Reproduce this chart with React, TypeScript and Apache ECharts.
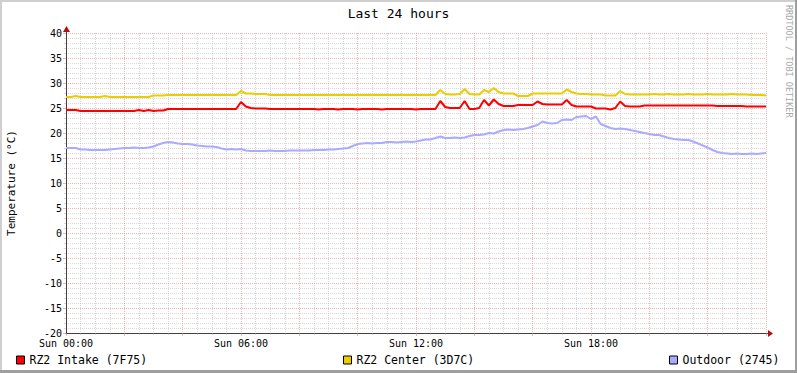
import React, { useEffect, useRef } from "react";
import * as echarts from "echarts";

// sample spacing of the series, minutes
const SAMPLE_MINUTES = 10;
const xTickLabels = ["Sun 00:00", "Sun 06:00", "Sun 12:00", "Sun 18:00"];
const seriesNames = ["RZ2 Intake (7F75)", "RZ2 Center (3D7C)", "Outdoor (2745)"];
const seriesColors = ["#FF0000", "#EACC00", "#AAAAFF"];

const intake = [
  24.6, 24.6, 24.6, 24.4, 24.4, 24.4, 24.4, 24.4, 24.4, 24.4,
  24.4, 24.4, 24.4, 24.4, 24.4, 24.6, 24.4, 24.6, 24.4, 24.5,
  24.5, 24.8, 24.8, 24.8, 24.8, 24.8, 24.8, 24.8, 24.8, 24.8,
  24.8, 24.8, 24.8, 24.8, 24.8, 24.8, 26.2, 25.3, 25.0, 24.9,
  24.9, 24.9, 24.8, 24.8, 24.8, 24.8, 24.8, 24.8, 24.8, 24.8,
  24.8, 24.8, 24.7, 24.8, 24.8, 24.8, 24.7, 24.8, 24.8, 24.8,
  24.7, 24.8, 24.8, 24.8, 24.8, 24.7, 24.8, 24.8, 24.8, 24.8,
  24.8, 24.8, 24.7, 24.8, 24.8, 24.8, 24.8, 26.4, 25.2, 25.0,
  25.0, 25.0, 26.4, 24.8, 24.8, 25.0, 26.6, 25.5, 26.7, 25.8,
  25.4, 25.4, 25.4, 25.6, 25.6, 25.6, 25.6, 26.3, 25.8, 25.7,
  25.7, 25.7, 25.7, 26.6, 25.6, 25.3, 25.3, 25.3, 25.3, 24.9,
  24.9, 24.9, 24.7, 25.0, 26.3, 25.4, 25.3, 25.3, 25.3, 25.5,
  25.5, 25.5, 25.5, 25.5, 25.5, 25.5, 25.5, 25.5, 25.5, 25.5,
  25.5, 25.5, 25.5, 25.5, 25.4, 25.4, 25.4, 25.4, 25.4, 25.4,
  25.3, 25.3, 25.3, 25.3, 25.3,
];

const center = [
  27.2, 27.2, 27.4, 27.2, 27.2, 27.2, 27.2, 27.2, 27.4, 27.2,
  27.2, 27.2, 27.2, 27.2, 27.2, 27.2, 27.2, 27.2, 27.5, 27.5,
  27.5, 27.6, 27.6, 27.6, 27.6, 27.6, 27.6, 27.6, 27.6, 27.6,
  27.6, 27.6, 27.6, 27.6, 27.6, 27.6, 28.4, 27.9, 27.9, 27.8,
  27.8, 27.8, 27.6, 27.6, 27.6, 27.6, 27.6, 27.6, 27.6, 27.6,
  27.6, 27.6, 27.6, 27.6, 27.6, 27.6, 27.6, 27.6, 27.6, 27.6,
  27.6, 27.6, 27.6, 27.6, 27.6, 27.6, 27.6, 27.6, 27.6, 27.6,
  27.6, 27.6, 27.6, 27.6, 27.6, 27.6, 27.6, 28.6, 27.8, 27.7,
  27.7, 27.8, 28.8, 27.8, 27.7, 27.7, 28.6, 28.2, 29.0, 28.2,
  27.9, 27.9, 27.9, 27.4, 27.4, 27.4, 27.9, 27.9, 27.9, 27.9,
  27.9, 27.9, 27.9, 28.7, 28.2, 27.9, 27.8, 27.8, 27.7, 27.7,
  27.7, 27.5, 27.5, 27.5, 28.4, 27.8, 27.7, 27.7, 27.7, 27.7,
  27.7, 27.8, 27.7, 27.7, 27.8, 27.7, 27.7, 27.7, 27.8, 27.7,
  27.7, 27.7, 27.8, 27.7, 27.7, 27.7, 27.7, 27.8, 27.7, 27.7,
  27.7, 27.6, 27.6, 27.6, 27.5,
];

const outdoor = [
  17.0, 17.0, 17.0, 16.7, 16.7, 16.6, 16.6, 16.6, 16.6, 16.7,
  16.8, 16.9, 17.0, 17.0, 17.1, 17.0, 17.0, 17.1, 17.3, 17.7,
  18.0, 18.2, 18.1, 17.9, 17.8, 17.8, 17.7, 17.5, 17.4, 17.3,
  17.3, 17.2, 16.9, 16.7, 16.8, 16.7, 16.8, 16.5, 16.4, 16.4,
  16.4, 16.4, 16.5, 16.4, 16.4, 16.4, 16.5, 16.5, 16.5, 16.5,
  16.5, 16.6, 16.6, 16.6, 16.7, 16.7, 16.8, 16.9, 17.0, 17.4,
  17.8, 17.9, 18.0, 17.9, 18.0, 18.0, 18.2, 18.2, 18.1, 18.2,
  18.3, 18.2, 18.3, 18.5, 18.7, 18.7, 19.0, 19.3, 19.0, 19.0,
  19.1, 19.0, 19.1, 19.4, 19.6, 19.6, 19.7, 20.0, 19.9, 20.3,
  20.6, 20.7, 20.6, 20.7, 20.8, 21.0, 21.3, 21.6, 22.3, 22.0,
  21.9, 22.0, 22.6, 22.7, 22.6, 23.2, 23.3, 23.4, 22.8, 23.3,
  21.8, 21.4, 21.0, 20.8, 20.9, 20.8, 20.6, 20.4, 20.2, 20.0,
  19.8, 19.6, 19.6, 19.3, 19.0, 18.8, 18.7, 18.6, 18.6, 18.3,
  17.9, 17.5, 17.1, 16.6, 16.2, 16.0, 15.9, 15.8, 15.9, 15.8,
  15.8, 15.9, 15.8, 15.9, 16.0,
];

const allSeries = [intake, center, outdoor];

export default function App() {
  const ref = useRef<HTMLDivElement>(null);

  useEffect(() => {
    document.body.style.margin = "0";
    const chart = echarts.init(ref.current!, null, { renderer: "svg" });
    const font = "DejaVu Sans Mono";
    const G = { left: 66, top: 33, width: 700, height: 300 };
    const axisColor = "#4a3c3c";
    const arrowColor = "#b01010";
    const majorGrid = "rgba(215,120,120,0.55)";
    const minorGrid = "rgba(160,160,160,0.4)";

    const toPairs = (arr: number[]) => arr.map((v, i) => [i * SAMPLE_MINUTES, v]);
    const legendLefts = [16, 343, 669];

    chart.setOption({
      animation: false,
      backgroundColor: "#ffffff",
      textStyle: { fontFamily: font },
      title: {
        text: "Last 24 hours",
        left: "center",
        top: 2,
        textStyle: { fontFamily: font, fontSize: 13, fontWeight: "normal", color: "#000" },
      },
      grid: { left: G.left, top: G.top, width: G.width, height: G.height },
      legend: seriesNames.map((name, i) => ({
        data: [name],
        left: legendLefts[i],
        top: 354,
        padding: 0,
        icon: "rect",
        itemWidth: 8,
        itemHeight: 8,
        itemStyle: { borderColor: "#000", borderWidth: 1 },
        textStyle: { fontFamily: font, fontSize: 11.5, color: "#000" },
        selectedMode: false,
      })),
      xAxis: {
        type: "value",
        min: 0,
        max: 1440,
        interval: 120,
        axisLine: { onZero: false, lineStyle: { color: axisColor, width: 1 } },
        axisTick: { show: true, length: 3, lineStyle: { color: majorGrid } },
        minorTick: { show: true, splitNumber: 4, length: 2, lineStyle: { color: minorGrid } },
        axisLabel: {
          margin: 5,
          fontSize: 10,
          color: "#000",
          fontFamily: font,
          showMaxLabel: false,
          formatter: (v: number) => (v % 360 === 0 && v < 1440 ? xTickLabels[v / 360] : ""),
        },
        splitLine: { show: true, lineStyle: { color: majorGrid, type: [1, 1] } },
        minorSplitLine: { show: true, lineStyle: { color: minorGrid, type: [1, 1] } },
      },
      yAxis: {
        type: "value",
        min: -20,
        max: 40,
        interval: 5,
        axisLine: { show: true, onZero: false, lineStyle: { color: axisColor, width: 1 } },
        axisTick: { show: true, length: 3, lineStyle: { color: majorGrid } },
        minorTick: { show: true, splitNumber: 5, length: 2, lineStyle: { color: minorGrid } },
        axisLabel: { margin: 4, fontSize: 10, color: "#000", fontFamily: font },
        splitLine: { show: true, lineStyle: { color: majorGrid, type: [1, 1] } },
        minorSplitLine: { show: true, lineStyle: { color: minorGrid, type: [1, 1] } },
      },
      series: allSeries.map((arr, i) => ({
        name: seriesNames[i],
        type: "line",
        data: toPairs(arr),
        showSymbol: false,
        symbol: "none",
        color: seriesColors[i],
        lineStyle: { color: seriesColors[i], width: 2 },
        itemStyle: { color: seriesColors[i] },
        emphasis: { disabled: true },
        silent: true,
        z: 3 + i,
      })),
      graphic: [
        // frame shading
        { type: "rect", shape: { x: 0, y: 0, width: 797, height: 2 }, style: { fill: "#cfcfcf" }, silent: true },
        { type: "rect", shape: { x: 0, y: 0, width: 2, height: 373 }, style: { fill: "#cfcfcf" }, silent: true },
        { type: "rect", shape: { x: 0, y: 370, width: 797, height: 3 }, style: { fill: "#9e9e9e" }, silent: true },
        { type: "rect", shape: { x: 795, y: 0, width: 2, height: 373 }, style: { fill: "#9e9e9e" }, silent: true },
        // axis extensions and arrows
        { type: "line", shape: { x1: G.left + G.width, y1: G.top + G.height + 0.5, x2: G.left + G.width + 3, y2: G.top + G.height + 0.5 }, style: { stroke: axisColor, lineWidth: 1 }, silent: true },
        { type: "polygon", shape: { points: [[G.left + G.width + 2, G.top + G.height - 3], [G.left + G.width + 7, G.top + G.height + 0.5], [G.left + G.width + 2, G.top + G.height + 4]] }, style: { fill: arrowColor }, silent: true },
        { type: "line", shape: { x1: G.left + 0.5, y1: G.top, x2: G.left + 0.5, y2: G.top - 2 }, style: { stroke: axisColor, lineWidth: 1 }, silent: true },
        { type: "polygon", shape: { points: [[G.left - 3, G.top - 1], [G.left + 0.5, G.top - 7], [G.left + 4, G.top - 1]] }, style: { fill: arrowColor }, silent: true },
        // y axis title
        {
          type: "text",
          x: 11,
          y: 183,
          rotation: Math.PI / 2,
          style: { text: "Temperature (°C)", fontFamily: font, fontSize: 11, fill: "#000", align: "center", verticalAlign: "middle" },
          silent: true,
        },
        // watermark
        {
          type: "text",
          x: 789,
          y: 5,
          rotation: -Math.PI / 2,
          style: { text: "RRDTOOL / TOBI OETIKER", fontFamily: font, fontSize: 8.5, fill: "#a8a8a8", align: "left", verticalAlign: "middle" },
          silent: true,
        },
      ],
    });

    return () => chart.dispose();
  }, []);

  return <div ref={ref} style={{ width: 797, height: 373 }} />;
}
